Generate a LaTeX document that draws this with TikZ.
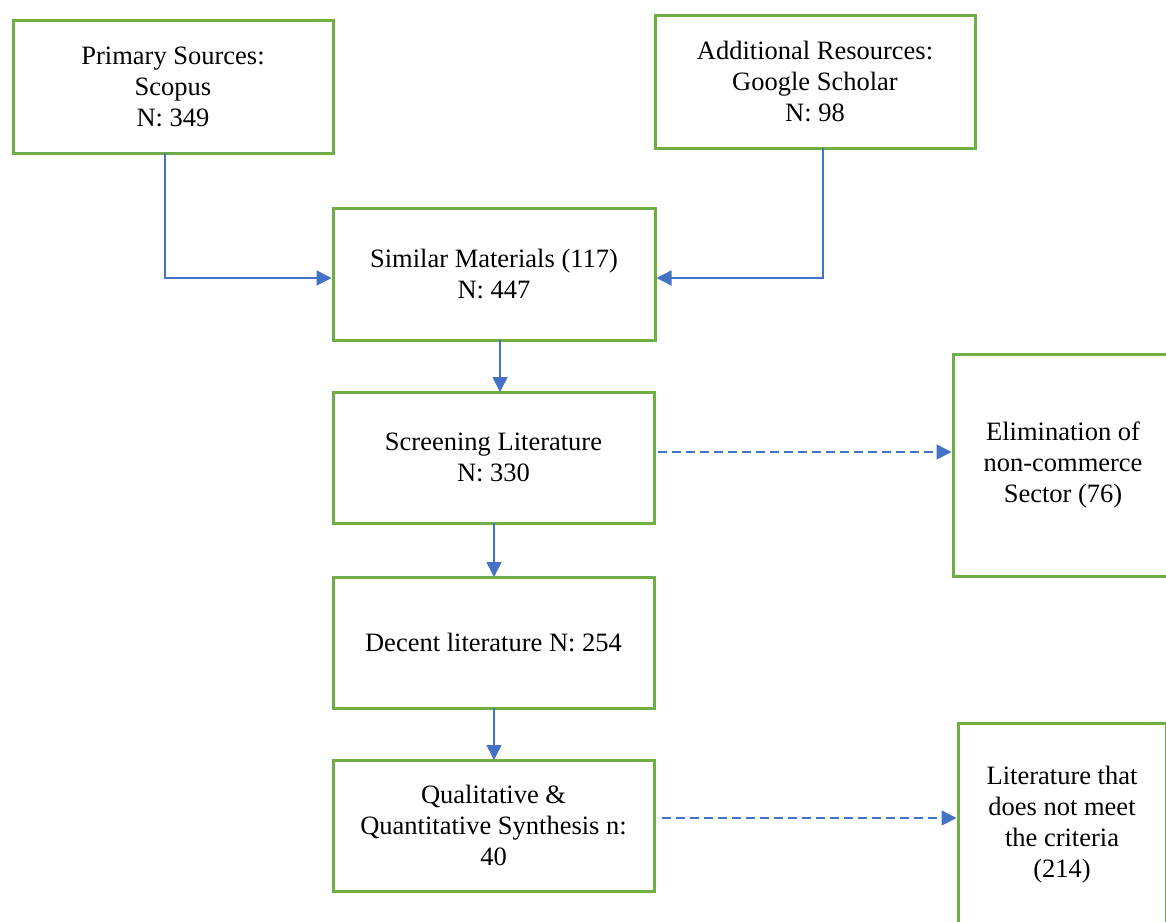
\documentclass[tikz,border=0pt]{standalone}
\usepackage{fontspec}
\setmainfont{Liberation Serif}
\usetikzlibrary{arrows.meta}
\definecolor{boxgreen}{HTML}{70AD47}
\definecolor{arrowblue}{HTML}{4472C4}
\begin{document}
\begin{tikzpicture}[x=1pt,y=-1pt,
  box/.style={draw=boxgreen, line width=3pt, fill=white, inner sep=0pt, align=center,
    font=\fontsize{26.5}{31}\selectfont, text=black},
  conn/.style={draw=arrowblue, line width=1.5pt, -{Triangle[length=15pt,width=15pt]}},
  dconn/.style={conn, dash pattern=on 9pt off 5pt}]
\clip (0,0) rectangle (1166,921);
\fill[white] (0,0) rectangle (1166,921);
\node[box, minimum width=320pt, minimum height=133pt] (prim) at (173,86.5) {Primary Sources:\\Scopus\\N: 349};
\node[box, minimum width=320pt, minimum height=133pt] (add) at (815,81.5) {Additional Resources:\\Google Scholar\\N: 98};
\node[box, minimum width=322pt, minimum height=132pt] (sim) at (494,274) {Similar Materials (117)\\N: 447};
\node[box, minimum width=321pt, minimum height=131pt] (scr) at (493.5,457.5) {Screening Literature\\N: 330};
\node[box, minimum width=321pt, minimum height=131pt] (dec) at (493.5,642.5) {Decent literature N: 254};
\node[box, minimum width=321pt, minimum height=131pt] (qual) at (493.5,825.5) {Qualitative \&\\Quantitative Synthesis n:\\40};
\node[box, minimum width=220pt, minimum height=222pt] (elim) at (1063,465) {Elimination of\\non-commerce\\Sector (76)};
\node[box, minimum width=208pt, minimum height=204pt] (lit) at (1062,825) {Literature that\\does not meet\\the criteria\\(214)};
\coordinate (p1) at (165,153);
\coordinate (a1) at (823,148);
\draw[conn] (p1) |- (sim.west |- 0,278);
\draw[conn] (a1) |- (sim.east |- 0,278);
\draw[conn] (500,340) -- (500,392);
\draw[conn] (494,523) -- (494,577);
\draw[conn] (494,708) -- (494,760);
\draw[dconn] (658,452) -- (elim.west |- 0,452);
\draw[dconn] (662,818) -- (lit.west |- 0,818);
\end{tikzpicture}
\end{document}
